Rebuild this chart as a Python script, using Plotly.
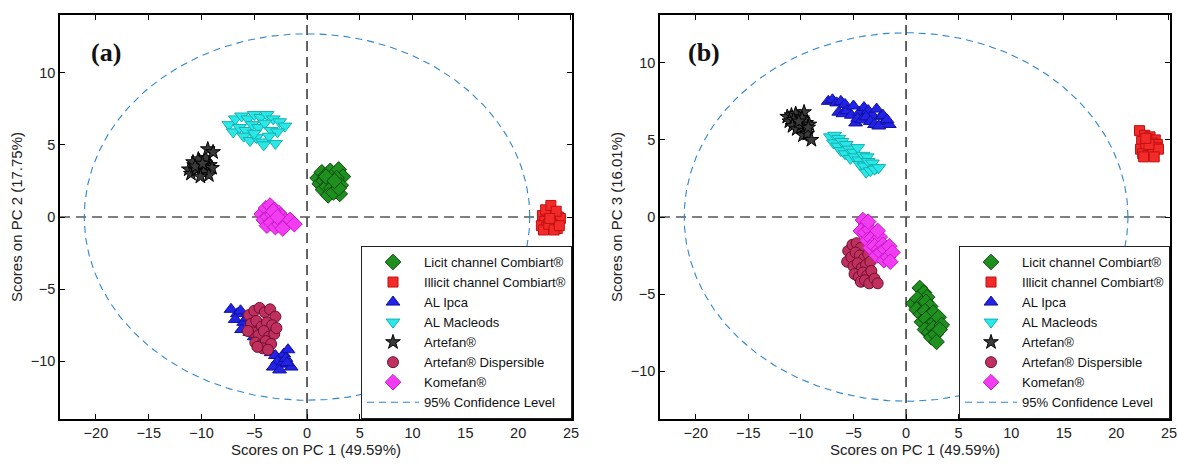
import numpy as np
import plotly.graph_objects as go

# ---------------- data: panel (a) PC1 vs PC2 ----------------
a_licit_x = [1.0, 1.4, 1.8, 2.2, 2.6, 3.0, 3.4, 1.2, 1.6, 2.0, 2.4, 2.8, 3.2, 1.5, 1.9, 2.3, 2.7, 3.1, 2.0, 2.5, 3.0, 1.8, 2.6]
a_licit_y = [2.7, 3.1, 2.9, 3.2, 3.0, 3.3, 2.8, 2.3, 2.5, 2.6, 2.4, 2.7, 2.2, 1.9, 2.1, 2.0, 1.8, 1.6, 1.5, 1.7, 2.0, 2.8, 2.5]
a_illicit_x = [22.3, 22.8, 23.3, 23.8, 22.5, 23.0, 23.5, 24.0, 22.2, 22.7, 23.2, 23.7, 22.4, 22.9, 23.4, 23.9, 22.6, 23.1, 23.6, 23.0]
a_illicit_y = [0.1, 0.3, 0.2, 0.0, -0.3, -0.2, -0.4, -0.1, -0.6, -0.7, -0.5, -0.8, -0.9, -0.5, -0.9, -0.6, 0.5, 0.8, 0.4, -0.1]
a_ipca_x = [-7.2, -6.6, -6.3, -6.8, -6.0, -5.7, -6.2, -5.4, -5.0, -4.6, -4.2, -3.8, -3.4, -3.0, -2.6, -2.2, -1.8, -2.8, -2.4, -2.0, -1.5, -3.2, -2.6, -1.9, -4.9]
a_ipca_y = [-6.4, -6.7, -6.5, -7.1, -7.3, -7.0, -7.8, -8.0, -8.3, -8.5, -8.9, -9.2, -9.4, -9.6, -9.9, -9.5, -9.2, -10.0, -10.2, -9.8, -10.4, -10.4, -10.6, -10.1, -7.6]
a_macleods_x = [-7.4, -6.8, -6.2, -5.6, -5.0, -4.4, -3.8, -3.2, -2.6, -2.1, -7.0, -6.4, -5.8, -5.2, -4.6, -4.0, -3.4, -2.8, -6.0, -5.4, -4.8, -4.2, -3.6, -3.0, -5.0, -4.1]
a_macleods_y = [6.4, 6.8, 7.0, 6.8, 7.1, 6.9, 7.1, 6.8, 6.6, 6.3, 5.9, 6.2, 6.0, 6.4, 6.2, 6.5, 6.0, 5.9, 5.6, 5.3, 5.5, 5.2, 5.6, 5.1, 5.8, 5.0]
a_artefan_x = [-11.2, -10.7, -10.2, -9.7, -9.2, -11.0, -10.5, -10.0, -9.5, -9.0, -10.8, -10.3, -9.8, -9.3, -10.1, -9.6, -9.4, -8.9, -10.6, -9.9]
a_artefan_y = [3.3, 3.6, 3.9, 3.8, 3.6, 3.0, 3.3, 3.5, 3.2, 3.4, 3.8, 4.0, 3.1, 2.9, 2.8, 4.1, 4.7, 4.5, 3.5, 3.7]
a_disp_x = [-5.5, -5.0, -4.5, -4.0, -3.5, -3.0, -5.3, -4.8, -4.3, -3.8, -3.3, -5.1, -4.6, -4.1, -3.6, -3.1, -4.9, -4.4, -3.9, -3.4, -4.2, -3.7, -4.7, -2.9, -5.6]
a_disp_y = [-6.8, -6.5, -6.3, -6.6, -6.4, -6.9, -7.4, -7.2, -7.6, -7.3, -7.5, -8.0, -8.2, -7.9, -8.3, -8.1, -8.7, -8.9, -8.6, -8.8, -9.1, -9.2, -9.0, -7.7, -7.9]
a_kome_x = [-4.3, -3.9, -3.5, -3.1, -2.7, -4.1, -3.7, -3.3, -2.9, -2.5, -2.1, -3.8, -3.4, -3.0, -2.6, -1.6, -1.2, -2.3, -3.2, -2.8]
a_kome_y = [0.2, 0.6, 0.8, 0.5, 0.3, -0.2, 0.0, 0.2, -0.1, 0.1, -0.3, -0.6, -0.4, -0.7, -0.5, -0.2, -0.5, -0.8, 0.4, 0.0]

# ---------------- data: panel (b) PC1 vs PC3 ----------------
b_licit_x = [1.3, 1.7, 2.0, 0.7, 1.1, 1.5, 1.9, 2.3, 1.0, 1.4, 1.8, 2.2, 2.6, 1.5, 1.9, 2.3, 2.7, 3.1, 1.8, 2.2, 2.6, 3.0, 3.4, 2.4, 2.8, 3.2, 2.9]
b_licit_y = [-4.6, -4.9, -5.2, -5.6, -5.3, -5.6, -5.5, -5.8, -6.0, -6.3, -6.1, -6.4, -6.2, -6.8, -6.6, -7.0, -6.8, -6.5, -7.3, -7.5, -7.2, -7.4, -7.0, -7.8, -7.6, -7.3, -8.1]
b_illicit_x = [22.2, 22.7, 23.2, 23.7, 22.4, 22.9, 23.4, 23.9, 22.3, 22.8, 23.3, 23.8, 22.5, 23.0, 23.5, 24.0, 22.6, 23.1, 22.8, 23.6]
b_illicit_y = [5.6, 5.3, 5.2, 5.0, 4.9, 5.0, 4.8, 4.7, 4.4, 4.6, 4.3, 4.5, 4.1, 4.0, 4.2, 4.4, 3.9, 4.7, 5.1, 3.9]
b_ipca_x = [-7.4, -7.0, -6.6, -6.2, -5.8, -6.4, -6.0, -5.6, -5.2, -4.8, -4.4, -4.0, -3.6, -3.2, -2.8, -2.4, -2.0, -1.6, -4.6, -4.2, -3.8, -3.4, -3.0, -2.6, -2.2, -1.8, -5.0]
b_ipca_y = [7.5, 7.6, 7.4, 7.5, 7.3, 6.8, 6.7, 6.9, 6.6, 6.1, 6.8, 7.1, 6.9, 6.6, 7.0, 6.5, 6.2, 6.0, 6.4, 6.3, 6.5, 6.2, 6.0, 5.9, 6.6, 6.3, 7.2]
b_macleods_x = [-7.2, -6.8, -6.4, -6.9, -6.5, -6.1, -5.7, -6.2, -5.8, -5.4, -5.0, -4.6, -5.3, -4.9, -4.5, -4.1, -3.7, -4.4, -4.0, -3.6, -3.2, -2.8, -3.8, -3.4, -3.0, -2.6]
b_macleods_y = [5.2, 5.3, 5.1, 4.8, 4.6, 4.9, 4.7, 4.3, 4.1, 4.4, 4.2, 4.5, 3.8, 3.9, 3.7, 4.0, 3.9, 3.4, 3.3, 3.6, 3.5, 3.2, 2.9, 3.0, 3.1, 3.2]
b_artefan_x = [-11.3, -10.9, -10.5, -10.1, -9.7, -11.1, -10.7, -10.3, -9.9, -9.5, -10.8, -10.4, -10.0, -9.6, -9.2, -9.8, -9.4, -9.0, -10.2, -9.3]
b_artefan_y = [6.5, 6.6, 6.7, 6.5, 6.8, 6.2, 6.3, 6.0, 6.4, 6.1, 5.9, 5.7, 5.8, 5.6, 6.0, 5.3, 5.4, 5.0, 6.2, 5.8]
b_disp_x = [-5.5, -5.1, -4.7, -4.3, -5.6, -5.2, -4.8, -4.4, -4.0, -3.6, -5.0, -4.6, -4.2, -3.8, -3.4, -4.9, -4.5, -4.1, -3.7, -3.3, -4.3, -3.9, -3.5, -3.0, -2.7]
b_disp_y = [-2.2, -1.8, -1.7, -2.0, -2.9, -2.6, -2.3, -2.5, -2.7, -2.4, -3.2, -3.0, -3.3, -3.1, -2.9, -3.7, -3.9, -3.6, -3.8, -3.5, -4.2, -4.1, -4.3, -4.0, -4.3]
b_kome_x = [-4.1, -3.8, -4.3, -3.9, -3.5, -3.1, -3.7, -3.3, -2.9, -2.5, -3.4, -3.0, -2.6, -2.2, -2.8, -2.4, -2.0, -1.6, -2.1, -1.7, -1.3, -1.5, -3.6, -2.7]
b_kome_y = [-0.2, -0.5, -0.9, -1.0, -0.8, -1.2, -1.5, -1.4, -1.6, -1.3, -2.0, -1.9, -2.1, -1.8, -2.5, -2.3, -2.1, -1.9, -2.8, -2.6, -2.3, -2.9, -0.3, -0.9]

# 95% confidence ellipse semi-axes (PC1, PCk)
ell_a = [21.1, 12.7]
ell_b = [21.1, 11.95]

series_names = ["Licit channel Combiart®", "Illicit channel Combiart®", "AL Ipca", "AL Macleods",
                "Artefan®", "Artefan® Dispersible", "Komefan®"]
ci_name = "95% Confidence Level"
x_title = "Scores on PC 1 (49.59%)"
y_titles = ["Scores on PC 2 (17.75%)", "Scores on PC 3 (16.01%)"]
panel_labels = ["(a)", "(b)"]

styles = [
    dict(symbol="diamond", size=12, color="#1f8f1f", line=dict(color="#0a4a0a", width=1)),
    dict(symbol="square", size=10, color="#f22a2a", line=dict(color="#c01010", width=1)),
    dict(symbol="triangle-up", size=12, color="#2323e8", line=dict(color="#10109a", width=1)),
    dict(symbol="triangle-down", size=12, color="#2ae8e8", line=dict(color="#14b0b0", width=1)),
    dict(symbol="star", size=11, color="#3a3a3a", line=dict(color="#000000", width=1)),
    dict(symbol="circle", size=11, color="#c0305e", line=dict(color="#6e0f30", width=1)),
    dict(symbol="diamond", size=12, color="#f23cf2", line=dict(color="#c818c8", width=1)),
]

panels = [
    [(a_licit_x, a_licit_y), (a_illicit_x, a_illicit_y), (a_ipca_x, a_ipca_y), (a_macleods_x, a_macleods_y),
     (a_artefan_x, a_artefan_y), (a_disp_x, a_disp_y), (a_kome_x, a_kome_y)],
    [(b_licit_x, b_licit_y), (b_illicit_x, b_illicit_y), (b_ipca_x, b_ipca_y), (b_macleods_x, b_macleods_y),
     (b_artefan_x, b_artefan_y), (b_disp_x, b_disp_y), (b_kome_x, b_kome_y)],
]

W, H = 1178, 465
ML, MR, MT, MB = 60, 8, 15, 46
PW = W - ML - MR
PH = H - MT - MB
xdoms = [[0, (572 - ML) / PW], [(660 - ML) / PW, 1]]
ydom = [0, 1]
yranges = [[-14.0, 14.0], [-13.1, 13.1]]
xrange_ = [-23.4, 25.1]

fig = go.Figure()
FONT = "Liberation Sans, Arial, sans-serif"

for p in range(2):
    xa = "x" if p == 0 else "x2"
    ya = "y" if p == 0 else "y2"
    leg = "legend" if p == 0 else "legend2"
    t = np.linspace(0, 2 * np.pi, 400)
    semi = [ell_a, ell_b][p]
    fig.add_trace(go.Scatter(x=semi[0] * np.cos(t), y=semi[1] * np.sin(t), mode="lines",
                             line=dict(color="#2f86cf", width=1.1, dash="7px,5px"),
                             name=ci_name, xaxis=xa, yaxis=ya, legend=leg, legendrank=100,
                             hoverinfo="skip"))
    for i, (xs, ys) in enumerate(panels[p]):
        st = styles[i]
        fig.add_trace(go.Scatter(x=xs, y=ys, mode="markers", name=series_names[i],
                                 marker=dict(symbol=st["symbol"], size=st["size"], color=st["color"],
                                             line=st["line"]),
                                 xaxis=xa, yaxis=ya, legend=leg, legendrank=i + 1))

axis_common = dict(showgrid=False, zeroline=False, showline=True, linecolor="black", linewidth=1.5,
                   mirror="allticks", ticks="inside", ticklen=5, tickwidth=1.3, tickcolor="black",
                   automargin=False,
                   tickfont=dict(family=FONT, size=14.5, color="#222"))

layout = dict(
    width=W, height=H, margin=dict(l=ML, r=MR, t=MT, b=MB, autoexpand=False),
    paper_bgcolor="white", plot_bgcolor="white", showlegend=True,
    font=dict(family=FONT, size=14, color="#222"),
)
for p in range(2):
    sx = "" if p == 0 else "2"
    layout["xaxis" + sx] = dict(axis_common, domain=xdoms[p], range=xrange_, dtick=5, tick0=0,
                                anchor="y" + sx,
                                title=dict(text=x_title, font=dict(family=FONT, size=15, color="#222"), standoff=2))
    layout["yaxis" + sx] = dict(axis_common, domain=ydom, range=yranges[p], dtick=5, tick0=0,
                                anchor="x" + sx,
                                title=dict(text=y_titles[p], font=dict(family=FONT, size=15, color="#222"), standoff=4))

legend_common = dict(bgcolor="white", bordercolor="#222", borderwidth=1,
                     font=dict(family=FONT, size=13.1, color="#111"), itemwidth=52,
                     xanchor="right", yanchor="bottom", traceorder="normal", tracegroupgap=0)
layout["legend"] = dict(legend_common, x=(572 - ML) / PW, y=0)
layout["legend2"] = dict(legend_common, x=1.0, y=0)
fig.update_layout(**layout)

for p in range(2):
    sx = "" if p == 0 else "2"
    fig.add_shape(type="line", xref="x" + sx, yref="y" + sx + " domain", x0=0, x1=0, y0=0, y1=1,
                  line=dict(color="#111", width=1.3, dash="10px,6px"), layer="below")
    fig.add_shape(type="line", xref="x" + sx + " domain", yref="y" + sx, x0=0, x1=1, y0=0, y1=0,
                  line=dict(color="#555", width=1.3, dash="10px,6px"), layer="below")
    fig.add_annotation(text="<b>" + panel_labels[p] + "</b>", xref="x" + sx + " domain", yref="y" + sx + " domain",
                       x=[(106 - 60) / 512, (704 - 660) / 510][p], y=(419 - 53) / 404, showarrow=False,
                       xanchor="center", yanchor="middle",
                       font=dict(family="Liberation Serif, DejaVu Serif, serif", size=26, color="#111"))

fig.write_html("out.html", config={"displayModeBar": False},
               post_script="document.body.style.margin='0px';")
